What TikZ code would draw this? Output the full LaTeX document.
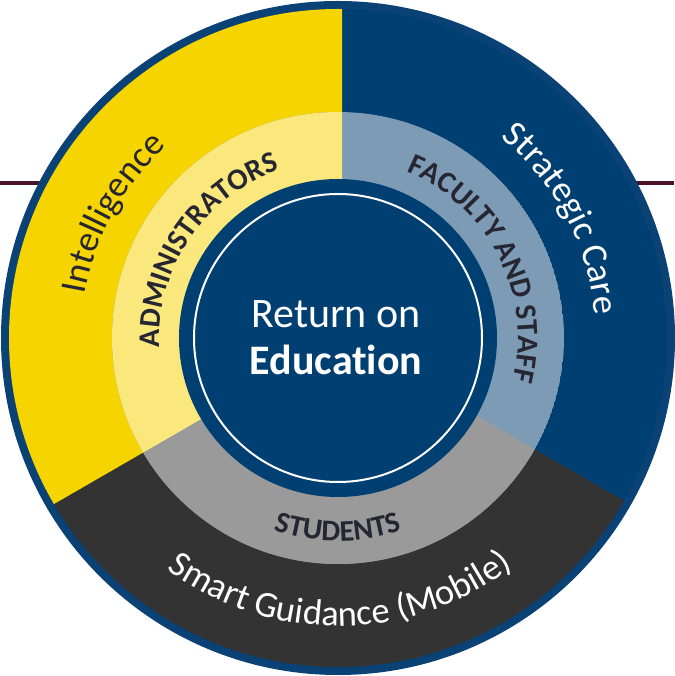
\documentclass[tikz,border=0pt]{standalone}
\usepackage{fontspec}
\setmainfont{Carlito}[Ligatures=NoCommon]
\usepackage{tikz}
\usetikzlibrary{calc,decorations.text}

\definecolor{rimblue}{HTML}{0A4276}
\definecolor{navy}{HTML}{003F72}
\definecolor{yellowseg}{HTML}{F5D400}
\definecolor{darkseg}{HTML}{333333}
\definecolor{lightyellow}{HTML}{FAE87C}
\definecolor{greyblue}{HTML}{7D9BB5}
\definecolor{greyseg}{HTML}{9A9A9A}
\definecolor{labeldark}{HTML}{262633}
\definecolor{maroon}{HTML}{4A1428}

\newcommand\outerlabel{\fontsize{36.5}{43}\selectfont}
\newcommand\ringlabel{\bfseries\fontsize{30}{36}\selectfont}

\tikzset{
  outertext/.style={decorate,decoration={text along path,text align=center,text color=#1}},
  ringtext/.style={decorate,decoration={text along path,text align=center,text color=labeldark}}
}

\begin{document}
\begin{tikzpicture}[x=1pt,y=1pt]
\useasboundingbox (-338,-338) rectangle (336,338);
\coordinate (hub) at (4,0);

% Header line behind the wheel
\draw[maroon,line width=4] (-338,155) -- (336,155);

% Outer ring
\fill[rimblue] (0,0) circle (337);
\begin{scope}
  \clip (0,0) circle (329);
  \fill[navy] (0,0) circle (329);
  \fill[yellowseg] (hub) -- ($(hub)+(90:600)$) -- (-600,600) -- (-600,-300) -- ($(hub)+(210:600)$) -- cycle;
  \fill[darkseg] (hub) -- ($(hub)+(210:600)$) -- (-600,-600) -- (600,-600) -- ($(hub)+(330:600)$) -- cycle;
\end{scope}

% Middle ring
\begin{scope}
  \clip (0,0) circle (226);
  \fill[greyblue] (0,0) circle (226);
  \fill[lightyellow] (hub) -- ($(hub)+(90:600)$) -- (-600,600) -- (-600,-300) -- ($(hub)+(210:600)$) -- cycle;
  \fill[greyseg] (hub) -- ($(hub)+(210:600)$) -- (-600,-600) -- (600,-600) -- ($(hub)+(330:600)$) -- cycle;
\end{scope}

% Centre
\fill[navy] (0,0) circle (159);
\draw[white,line width=2] (0,0) circle (144);
\node[white,font=\fontsize{42}{49}\selectfont,anchor=base] (ret) at (-2,10) {Return on};
\node[white,font=\bfseries\fontsize{42}{49}\selectfont,anchor=base] (edu) at (-2,-37) {Education};

% Outer labels
\path[outertext=labeldark,decoration={text={|\outerlabel|Intelligence}}] (200:257) arc[start angle=200,end angle=102,radius=257];
\path[outertext=white,decoration={text={|\outerlabel|Strategic Care}}] (78:258) arc[start angle=78,end angle=-22,radius=258];
\path[outertext=white,decoration={text={|\outerlabel|Smart Guidance (Mobile)}}] (200:288) arc[start angle=200,end angle=341,radius=288];

% Middle labels
\path[ringtext,decoration={text={|\ringlabel|ADMINISTRATORS}}] (196:178) arc[start angle=196,end angle=96,radius=178];
\path[ringtext,decoration={text={|\ringlabel|FACULTY AND STAFF}}] (77:180) arc[start angle=77,end angle=-23,radius=180];
\path[ringtext,decoration={text={|\ringlabel|STUDENTS}}] (220:203) arc[start angle=220,end angle=320,radius=203];
\end{tikzpicture}
\end{document}
